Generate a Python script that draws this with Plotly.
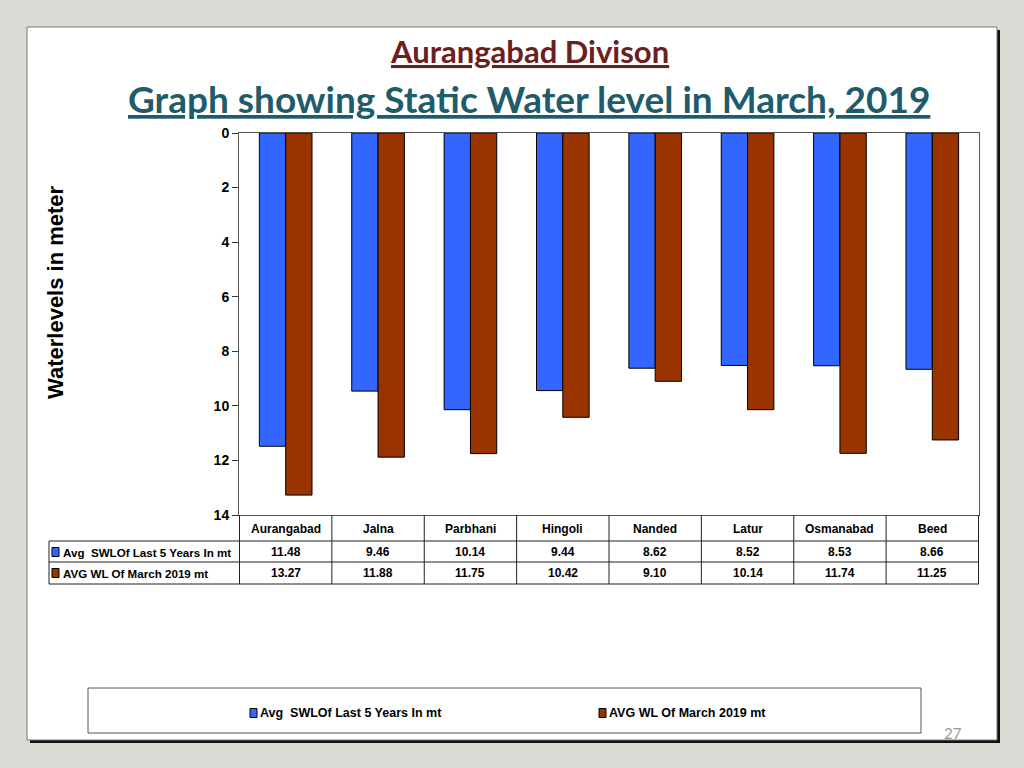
import plotly.graph_objects as go

categories = ["Aurangabad", "Jalna", "Parbhani", "Hingoli", "Nanded", "Latur", "Osmanabad", "Beed"]
series_names = ["Avg  SWLOf Last 5 Years In mt", "AVG WL Of March 2019 mt"]
swl_5yr = [11.48, 9.46, 10.14, 9.44, 8.62, 8.52, 8.53, 8.66]
wl_mar2019 = [13.27, 11.88, 11.75, 10.42, 9.10, 10.14, 11.74, 11.25]
y_ticks = [0, 2, 4, 6, 8, 10, 12, 14]

BLUE = "#3366FF"
BROWN = "#993300"
BG = "#dcdad5"

W, H = 1024, 768
L, R, T, B = 239, 45, 133, 253
PW, PH = W - L - R, H - T - B


def px(x):
    return (x - L) / PW


def py(y):
    return (H - B - y) / PH


fig = go.Figure()
fig.add_trace(go.Bar(x=categories, y=swl_5yr, name=series_names[0],
                     marker=dict(color=BLUE, line=dict(color="black", width=1))))
fig.add_trace(go.Bar(x=categories, y=wl_mar2019, name=series_names[1],
                     marker=dict(color=BROWN, line=dict(color="black", width=1))))

shapes = []
# page panel with shadow
shapes.append(dict(type="rect", xref="paper", yref="paper", x0=px(30), x1=px(1000), y0=py(743), y1=py(30),
                   fillcolor="#111111", line=dict(width=0), layer="below"))
shapes.append(dict(type="rect", xref="paper", yref="paper", x0=px(27), x1=px(997), y0=py(740), y1=py(27),
                   fillcolor="white", line=dict(color="#777777", width=1), layer="below"))
# legend box
shapes.append(dict(type="rect", xref="paper", yref="paper", x0=px(88), x1=px(921), y0=py(733), y1=py(688),
                   fillcolor="white", line=dict(color="#555555", width=1), layer="below"))

# data table lines
line_style = dict(color="#222222", width=1)
for yy in [541, 562, 584]:
    shapes.append(dict(type="line", xref="paper", yref="paper", x0=px(49), x1=1, y0=py(yy), y1=py(yy), line=line_style))
shapes.append(dict(type="line", xref="paper", yref="paper", x0=px(49), x1=px(49), y0=py(541), y1=py(584), line=line_style))
for k in range(len(categories) + 1):
    shapes.append(dict(type="line", xref="x", yref="paper", x0=k - 0.5, x1=k - 0.5, y0=0, y1=py(584), line=line_style))

ann = []


def key(x, yy, col):
    shapes.append(dict(type="rect", xref="paper", yref="paper", x0=px(x), x1=px(x + 7), y0=py(yy + 4.5), y1=py(yy - 4.5),
                       fillcolor=col, line=dict(color="black", width=1)))


# legend keys + labels in table
for yy, col, name in [(552, BLUE, series_names[0]), (573, BROWN, series_names[1])]:
    key(52, yy, col)
    ann.append(dict(x=px(61), xref="paper", y=py(yy), yref="paper", text=name, showarrow=False,
                    xanchor="left", yanchor="middle", font=dict(family="Arial", size=11.6, color="black", weight="bold")))

tfont = dict(family="Arial", size=12, color="black", weight="bold")
for i, c in enumerate(categories):
    ann.append(dict(x=c, xref="x", y=py(529), yref="paper", text=c, showarrow=False, font=tfont,
                    xanchor="center", yanchor="middle"))
    ann.append(dict(x=c, xref="x", y=py(552), yref="paper", text=f"{swl_5yr[i]:.2f}", showarrow=False, font=tfont,
                    xanchor="center", yanchor="middle"))
    ann.append(dict(x=c, xref="x", y=py(573), yref="paper", text=f"{wl_mar2019[i]:.2f}", showarrow=False, font=tfont,
                    xanchor="center", yanchor="middle"))

# bottom legend (drawn)
for x, col, name in [(250, BLUE, series_names[0]), (599, BROWN, series_names[1])]:
    key(x, 713, col)
    ann.append(dict(x=px(x + 8), xref="paper", y=py(713), yref="paper", text=name, showarrow=False,
                    xanchor="left", yanchor="middle", font=dict(family="Arial", size=12.5, color="black", weight="bold")))

# titles
ann.append(dict(x=px(529), xref="paper", y=py(51), yref="paper", text="<u>Aurangabad Divison</u>", showarrow=False,
                font=dict(family="Lato", size=31, color="#6B2020", weight="bold"), xanchor="center", yanchor="middle"))
ann.append(dict(x=px(529), xref="paper", y=py(99), yref="paper", text="<u>Graph showing Static Water level in March, 2019</u>",
                showarrow=False, font=dict(family="Lato", size=37, color="#1F5C6B", weight="bold"),
                xanchor="center", yanchor="middle"))
# y-axis title
ann.append(dict(x=px(55), xref="paper", y=py(292), yref="paper", text="Waterlevels in meter", textangle=-90,
                showarrow=False, font=dict(family="Arial", size=22, color="black", weight="bold"),
                xanchor="center", yanchor="middle"))
# page number
ann.append(dict(x=px(953), xref="paper", y=py(733), yref="paper", text="27", showarrow=False,
                font=dict(family="Lato", size=15, color="#999999"), xanchor="center", yanchor="middle"))

fig.update_layout(
    width=W, height=H,
    margin=dict(l=L, r=R, t=T, b=B),
    paper_bgcolor=BG,
    plot_bgcolor="white",
    barmode="group",
    bargap=0.43,
    bargroupgap=0,
    showlegend=False,
    shapes=shapes,
    annotations=ann,
    font=dict(family="Arial"),
)
fig.update_xaxes(showticklabels=False, showline=True, mirror=True, linecolor="#555555", linewidth=1,
                 showgrid=False, ticks="")
fig.update_yaxes(range=[14, 0], tickvals=y_ticks, ticks="outside", ticklen=6, tickcolor="#333333",
                 showline=True, mirror=True, linecolor="#555555", linewidth=1, showgrid=False, zeroline=False,
                 tickfont=dict(family="Arial", size=14, color="black", weight="bold"))

fig.write_html("out.html", config={"displayModeBar": False},
               post_script="document.body.style.margin='0';document.body.style.background='" + BG + "';")
